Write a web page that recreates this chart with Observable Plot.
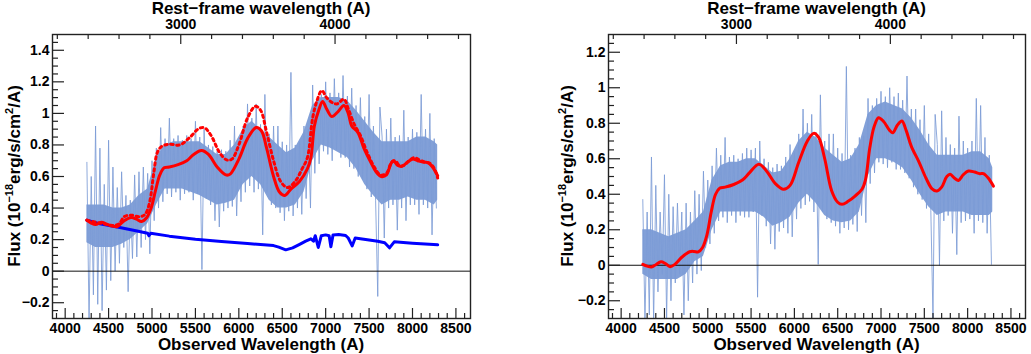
<!DOCTYPE html>
<html><head><meta charset="utf-8">
<script src="https://cdn.jsdelivr.net/npm/d3@7"></script>
<script src="https://cdn.jsdelivr.net/npm/@observablehq/plot@0.6"></script>
<style>
body{margin:0;background:#fff;}
#wrap{position:relative;width:1031px;height:354px;overflow:hidden;background:#fff;}
#wrap svg{position:absolute;top:0;overflow:visible;}
</style></head><body><div id="wrap"></div>
<script>
// ---------- data ----------
const zp1 = 1.777; // 1 + z (observed / rest-frame)
const specWave = [4250,4275,4300,4325,4350,4375,4400,4425,4450,4475,4500,4525,4550,4575,4600,4625,4650,4675,4700,4725,4750,4775,4800,4825,4850,4875,4900,4925,4950,4975,5000,5025,5050,5075,5100,5125,5150,5175,5200,5225,5250,5275,5300,5325,5350,5375,5400,5425,5450,5475,5500,5525,5550,5575,5600,5625,5650,5675,5700,5725,5750,5775,5800,5825,5850,5875,5900,5925,5950,5975,6000,6025,6050,6075,6100,6125,6150,6175,6200,6225,6250,6275,6300,6325,6350,6375,6400,6425,6450,6475,6500,6525,6550,6575,6600,6625,6650,6675,6700,6725,6750,6775,6800,6825,6850,6875,6900,6925,6950,6975,7000,7025,7050,7075,7100,7125,7150,7175,7200,7225,7250,7275,7300,7325,7350,7375,7400,7425,7450,7475,7500,7525,7550,7575,7600,7625,7650,7675,7700,7725,7750,7775,7800,7825,7850,7875,7900,7925,7950,7975,8000,8025,8050,8075,8100,8125,8150,8175,8200,8225,8250,8275];
const leftSpec = [0.69,-0.32,0.60,-0.15, 0.92,-0.21,0.78,-0.25, 0.55,-0.12,0.83,-0.06, 0.66,0.00,0.53,0.05, 0.63,0.15,0.48,-0.13, 0.45,0.08,0.61,0.09, 0.63,0.15,0.66,0.20, 0.62,0.11,0.70,0.32, 0.78,0.40,0.91,0.44, 0.84,0.49,0.97,0.47, 0.84,0.50,0.86,0.45, 0.83,0.49,0.86,0.50, 0.84,0.45,0.95,0.49, 0.85,0.01,0.90,0.46, 0.80,0.42,0.79,0.32, 0.76,0.28,0.77,0.38, 0.76,0.40,0.83,0.41, 0.92,0.35,0.82,0.44, 0.92,0.50,1.06,0.54, 0.97,0.50,1.06,0.52, 0.93,0.23,1.12,0.50, 0.87,0.42,0.92,0.40, 0.92,0.37,0.82,0.32, 0.80,0.38,1.26,0.35, 0.80,0.40,0.82,0.36, 0.92,0.46,0.90,0.40, 1.18,0.62,1.08,0.68, 1.12,0.76,1.20,0.74, 1.13,0.70,1.22,0.77, 1.13,0.72,1.24,0.72, 1.11,0.66,1.16,0.65, 1.05,0.60,1.10,0.58, 0.98,0.52,1.12,0.47, 0.92,0.45,-0.16,1.04, 0.85,0.21,0.90,0.40, 0.97,0.42,0.85,0.26, 0.86,0.40,1.02,0.32, 0.85,0.42,0.90,0.42, 0.88,0.36,1.12,0.42, 0.90,0.40,1.00,0.23, 0.84,0.40];
const rightSpec = [0.37,-0.32,0.30,-0.28, 0.61,-0.32,0.45,-0.15, 0.30,-0.05,0.51,-0.30, 0.40,-0.20,0.33,-0.10, 0.35,-0.05,0.30,-0.28, 0.35,-0.20,0.30,-0.10, 0.42,-0.05,0.40,-0.03, 0.53,0.10,0.48,0.12, 0.56,0.18,0.66,0.25, 0.62,0.27,0.72,0.24, 0.61,0.28,0.62,0.24, 0.60,0.28,0.63,0.27, 0.66,0.27,0.65,0.30, 0.66,-0.18,0.70,0.28, 0.60,0.22,0.58,0.12, 0.55,0.09,0.57,0.19, 0.56,0.21,0.61,0.18, 0.68,0.16,0.64,0.26, 0.74,0.32,0.88,0.34, 0.80,0.36,0.85,0.30, 0.75,0.005,0.96,0.30, 0.70,0.26,0.74,0.24, 0.74,0.22,0.66,0.18, 0.63,0.21,1.12,0.20, 0.62,0.23,0.66,0.19, 0.72,0.28,0.73,0.24, 0.94,0.46,0.90,0.52, 0.94,0.58,0.98,0.57, 0.95,0.55,1.00,0.58, 0.95,0.54,0.97,0.54, 0.93,0.52,1.066,0.49, 0.88,0.44,0.88,0.40, 0.82,0.37,0.90,0.32, 0.74,0.31,-0.30,0.85, 0.68,0.00,0.87,0.25, 0.72,0.28,0.68,0.18, 0.66,0.06,0.84,0.24, 0.70,0.25,0.66,0.26, 0.70,0.18,0.94,0.25, 0.90,0.24,0.72,0.18, 0.62,0.005];

const bandWave = [4250,4350,4450,4550,4650,4750,4850,4950,5050,5150,5250,5350,5450,5550,5650,5750,5850,5950,6050,6150,6250,6350,6450,6550,6650,6750,6850,6950,7050,7150,7250,7350,7450,7550,7650,7750,7850,7950,8050,8150,8250,8290];
const leftBandLo = [0.18,0.15,0.15,0.15,0.17,0.20,0.25,0.30,0.42,0.52,0.52,0.52,0.50,0.48,0.45,0.42,0.43,0.45,0.55,0.60,0.55,0.45,0.40,0.40,0.42,0.50,0.70,0.80,0.78,0.75,0.72,0.65,0.55,0.48,0.42,0.45,0.45,0.47,0.45,0.45,0.42,0.45];
const leftBandHi = [0.42,0.42,0.42,0.40,0.40,0.42,0.48,0.52,0.72,0.80,0.82,0.82,0.82,0.82,0.78,0.74,0.74,0.80,0.90,0.95,0.90,0.85,0.80,0.75,0.78,0.88,1.05,1.10,1.10,1.10,1.08,1.02,0.95,0.88,0.82,0.82,0.82,0.82,0.85,0.85,0.82,0.80];
const rightBandLo = [-0.05,-0.08,-0.08,-0.08,-0.08,-0.05,0.02,0.05,0.20,0.30,0.30,0.30,0.30,0.30,0.27,0.22,0.24,0.27,0.35,0.40,0.35,0.28,0.25,0.24,0.25,0.30,0.50,0.60,0.60,0.58,0.55,0.48,0.40,0.33,0.28,0.30,0.30,0.30,0.28,0.28,0.28,0.30];
const rightBandHi = [0.20,0.20,0.18,0.16,0.18,0.20,0.25,0.30,0.48,0.56,0.58,0.58,0.60,0.60,0.56,0.52,0.53,0.60,0.70,0.75,0.72,0.66,0.62,0.58,0.60,0.68,0.85,0.90,0.92,0.90,0.88,0.83,0.76,0.68,0.62,0.62,0.62,0.62,0.64,0.64,0.60,0.55];

// red solid model (left)
const redSolidWave = [4250,4300,4350,4420,4470,4550,4600,4680,4760,4820,4880,4940,4990,5040,5090,5140,5200,5300,5400,5480,5570,5650,5750,5850,5900,6000,6100,6200,6260,6320,6400,6470,6530,6600,6700,6790,6830,6870,6920,6965,7010,7070,7140,7210,7260,7300,7370,7440,7520,7580,7640,7700,7750,7780,7830,7880,7940,8000,8060,8130,8180,8230,8290];
const redSolidFlux = [0.323,0.305,0.295,0.31,0.30,0.285,0.283,0.32,0.34,0.33,0.315,0.34,0.40,0.51,0.61,0.655,0.66,0.675,0.70,0.74,0.765,0.74,0.66,0.61,0.615,0.71,0.84,0.91,0.89,0.78,0.60,0.50,0.48,0.52,0.57,0.65,0.72,0.92,1.02,1.075,1.03,0.98,1.01,1.05,1.00,0.92,0.88,0.78,0.69,0.63,0.60,0.61,0.68,0.70,0.67,0.665,0.69,0.71,0.70,0.69,0.688,0.66,0.605];
// red dotted model (left)
const redDotWave = [4250,4400,4550,4620,4680,4760,4860,4920,4970,5020,5060,5110,5200,5320,5440,5530,5600,5680,5780,5860,5920,6000,6100,6190,6250,6320,6400,6480,6560,6650,6730,6790,6850,6900,6956,7010,7070,7130,7210,7260,7330,7400,7480,7560,7630,7700,7760,7800,7850,7900,7960,8020,8080,8150,8210,8260,8290];
const redDotFlux = [0.323,0.305,0.29,0.30,0.345,0.355,0.345,0.36,0.43,0.62,0.75,0.79,0.805,0.80,0.85,0.90,0.91,0.86,0.75,0.705,0.71,0.80,0.97,1.045,1.02,0.88,0.70,0.57,0.53,0.57,0.65,0.72,0.97,1.08,1.145,1.10,1.07,1.06,1.09,1.03,0.93,0.86,0.75,0.66,0.61,0.62,0.69,0.70,0.67,0.67,0.70,0.72,0.705,0.69,0.68,0.64,0.59];
// blue continuum (left)
const blueWave = [4250,4400,4600,4800,4950,4965,4985,5200,5500,5800,6100,6400,6460,6540,6620,6700,6770,6830,6860,6880,6915,6950,7000,7040,7060,7085,7150,7230,7260,7305,7340,7400,7600,7680,7735,7790,8000,8290];
const blueFlux = [0.323,0.30,0.28,0.258,0.24,0.225,0.24,0.222,0.203,0.188,0.175,0.162,0.152,0.135,0.148,0.17,0.19,0.205,0.19,0.225,0.15,0.225,0.23,0.225,0.155,0.23,0.232,0.226,0.21,0.16,0.21,0.205,0.19,0.18,0.148,0.186,0.177,0.167];
// red model (right)
const redRightWave = [4250,4300,4350,4400,4460,4510,4565,4620,4700,4790,4840,4890,4940,4990,5040,5090,5140,5200,5300,5400,5480,5590,5680,5780,5876,5950,6050,6150,6222,6280,6350,6430,6500,6550,6620,6700,6780,6820,6870,6920,6971,7030,7100,7137,7190,7241,7290,7350,7440,7520,7590,7645,7700,7760,7798,7850,7894,7950,8009,8080,8140,8182,8240,8297];
const redRightFlux = [0.005,-0.005,-0.01,0.003,0.02,0.01,-0.008,0.005,0.045,0.076,0.078,0.075,0.10,0.17,0.30,0.40,0.435,0.44,0.455,0.48,0.52,0.569,0.53,0.46,0.428,0.45,0.58,0.70,0.743,0.72,0.60,0.42,0.355,0.343,0.36,0.39,0.428,0.48,0.66,0.78,0.831,0.81,0.76,0.747,0.79,0.813,0.76,0.67,0.58,0.49,0.43,0.418,0.44,0.50,0.512,0.49,0.478,0.51,0.531,0.525,0.516,0.516,0.49,0.446];

// ticks
const obsMajor = [4000,4500,5000,5500,6000,6500,7000,7500,8000,8500];
const obsMinor = [3900,4100,4200,4300,4400,4600,4700,4800,4900,5100,5200,5300,5400,5600,5700,5800,5900,6100,6200,6300,6400,6600,6700,6800,6900,7100,7200,7300,7400,7600,7700,7800,7900,8100,8200,8300,8400,8600];
const restMajor = [3000,4000];
const restMinor = [2200,2400,2600,2800,3200,3400,3600,3800,4200,4400,4600,4800];
const leftYMajor = [-0.2,0,0.2,0.4,0.6,0.8,1,1.2,1.4];
const leftYMinor = [-0.25,-0.15,-0.1,-0.05,0.05,0.1,0.15,0.25,0.3,0.35,0.45,0.5,0.55,0.65,0.7,0.75,0.85,0.9,0.95,1.05,1.1,1.15,1.25,1.3,1.35,1.45];
const rightYMajor = [-0.2,0,0.2,0.4,0.6,0.8,1,1.2];
const rightYMinor = [-0.25,-0.15,-0.1,-0.05,0.05,0.1,0.15,0.25,0.3,0.35,0.45,0.5,0.55,0.65,0.7,0.75,0.85,0.9,0.95,1.05,1.1,1.15,1.25];

// ---------- drawing ----------
const FONT = "'Liberation Sans', Arial, Helvetica, sans-serif";
const specColor = "#7b9bd6";
const tickColor = "#222";
const H = 354, MT = 34, MB = 36;
const fmtY = d => d === 0 ? "0" : d3.format("~g")(d);

function panel(o) {
  const innerH = H - MT - MB;
  const innerW = o.width - o.marginLeft - o.marginRight;
  const spec = specWave.map((w, i) => ({w, f: o.flux[i]}));
  const band = bandWave.map((w, i) => ({w, lo: o.bandLo[i], hi: o.bandHi[i]}));
  const restMajObs = restMajor.map(r => r * zp1);
  const restMinObs = restMinor.map(r => r * zp1);
  const marks = [
    Plot.areaY(band, {x: "w", y1: "lo", y2: "hi", fill: specColor, fillOpacity: 0.95, clip: true}),
    Plot.line(spec, {x: "w", y: "f", stroke: specColor, strokeWidth: 1, strokeOpacity: 0.85, clip: true}),
    Plot.ruleY([0], {stroke: "#111", strokeWidth: 1}),
    ...o.lines,
    Plot.tickX(obsMajor, {x: d => d, stroke: tickColor, strokeWidth: 1.2, insetTop: innerH - 10}),
    Plot.tickX(obsMinor, {x: d => d, stroke: tickColor, strokeWidth: 1.2, insetTop: innerH - 5}),
    Plot.tickX(restMajObs, {x: d => d, stroke: tickColor, strokeWidth: 1.2, insetBottom: innerH - 10}),
    Plot.tickX(restMinObs, {x: d => d, stroke: tickColor, strokeWidth: 1.2, insetBottom: innerH - 5}),
    Plot.tickY(o.yMajor, {y: d => d, stroke: tickColor, strokeWidth: 1.2, insetRight: innerW - 12}),
    Plot.tickY(o.yMinor, {y: d => d, stroke: tickColor, strokeWidth: 1.2, insetRight: innerW - 6}),
    Plot.axisX(obsMajor, {anchor: "bottom", tickSize: 0, tickPadding: 5, tickFormat: d => String(d), label: null, fontSize: 14, fontWeight: "bold", fill: "#000"}),
    Plot.axisX(restMajObs, {anchor: "top", tickSize: 0, tickPadding: 6, tickFormat: d => String(Math.round(d / zp1 / 100) * 100), label: null, fontSize: 14, fontWeight: "bold", fill: "#000"}),
    Plot.axisY(o.yMajor, {anchor: "left", tickSize: 0, tickPadding: 3, tickFormat: fmtY, label: null, fontSize: 14, fontWeight: "bold", fill: "#000"}),
    Plot.frame({stroke: "#222", strokeWidth: 1.4})
  ];
  const svg = Plot.plot({
    width: o.width, height: H,
    marginTop: MT, marginBottom: MB, marginLeft: o.marginLeft, marginRight: o.marginRight,
    x: {domain: [3854, 8668]},
    y: {domain: o.yDomain},
    style: {fontFamily: FONT, fontSize: "14px", fontWeight: "bold", color: "#000", background: "transparent", overflow: "visible"},
    marks
  });
  svg.style.left = o.left + "px";
  const s = d3.select(svg);
  const cx = (o.marginLeft + o.width - o.marginRight) / 2;
  const txt = (x, y, str) => s.append("text").attr("x", x).attr("y", y).attr("text-anchor", "middle")
    .attr("font-family", FONT).attr("font-weight", "bold").attr("font-size", 17).attr("fill", "#000").text(str);
  txt(cx, 350, "Observed Wavelength (A)");
  txt(cx, 13.5, "Rest\u2212frame wavelength (A)");
  const t = s.append("text").attr("transform", `translate(${o.titleX},${MT + innerH / 2}) rotate(-90)`)
    .attr("text-anchor", "middle").attr("font-family", FONT).attr("font-weight", "bold")
    .attr("font-size", 17).attr("fill", "#000");
  t.append("tspan").text("Flux (10");
  t.append("tspan").attr("dy", -7).attr("font-size", 11).text("\u221218");
  t.append("tspan").attr("dy", 7).text("erg/s/cm");
  t.append("tspan").attr("dy", -7).attr("font-size", 11).text("2");
  t.append("tspan").attr("dy", 7).text("/A)");
  document.getElementById("wrap").appendChild(svg);
}

const toPts = (ws, fs) => ws.map((w, i) => ({w, f: fs[i]}));

panel({
  left: 0, width: 520, marginLeft: 52, marginRight: 50, titleX: 20,
  yDomain: [-0.3, 1.5], yMajor: leftYMajor, yMinor: leftYMinor,
  flux: leftSpec, bandLo: leftBandLo, bandHi: leftBandHi,
  lines: [
    Plot.line(toPts(blueWave, blueFlux), {x: "w", y: "f", stroke: "#0000ff", strokeWidth: 3, clip: true}),
    Plot.line(toPts(redDotWave, redDotFlux), {x: "w", y: "f", stroke: "#ff0000", strokeWidth: 3, strokeDasharray: "2.5,3.5", curve: "catmull-rom", clip: true}),
    Plot.line(toPts(redSolidWave, redSolidFlux), {x: "w", y: "f", stroke: "#ff0000", strokeWidth: 3, curve: "catmull-rom", clip: true})
  ]
});

panel({
  left: 516, width: 515, marginLeft: 92, marginRight: 6, titleX: 57,
  yDomain: [-0.3, 1.3], yMajor: rightYMajor, yMinor: rightYMinor,
  flux: rightSpec, bandLo: rightBandLo, bandHi: rightBandHi,
  lines: [
    Plot.line(toPts(redRightWave, redRightFlux), {x: "w", y: "f", stroke: "#ff0000", strokeWidth: 3, curve: "catmull-rom", clip: true})
  ]
});
</script>
</body></html>
